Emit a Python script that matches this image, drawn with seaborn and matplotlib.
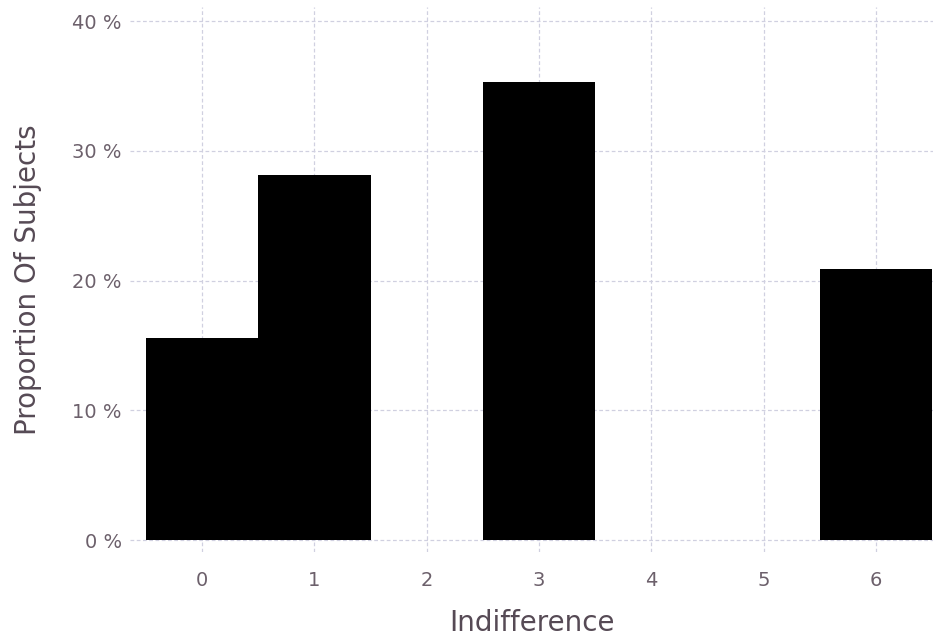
import matplotlib.pyplot as plt
import pandas as pd
import seaborn as sns
from matplotlib.ticker import FuncFormatter

# Share of subjects per indifference score (percent)
indifference = [0, 1, 3, 6]
proportion = [15.6, 28.1, 35.3, 20.9]
y_ticks = [0, 10, 20, 30, 40]
x_ticks = [0, 1, 2, 3, 4, 5, 6]

GRID = "#D0D0E0"
TICK_COLOR = "#6C606B"
LABEL_COLOR = "#564A55"

sns.set_theme(style="white")
plt.rcParams["font.family"] = ["DejaVu Sans"]

df = pd.DataFrame({"Indifference": indifference, "Proportion": proportion})

fig = plt.figure(figsize=(9.36, 6.37), dpi=100)
ax = fig.add_axes([0.1389, 0.1334, 0.8579, 0.8556])

sns.barplot(data=df, x="Indifference", y="Proportion", native_scale=True,
            width=1, color="black", saturation=1, edgecolor="none",
            linewidth=0, ax=ax, zorder=3)

ax.set_xlim(-0.641, 6.507)
ax.set_ylim(-0.925, 41.08)
ax.set_xticks(x_ticks)
ax.set_yticks(y_ticks)
ax.yaxis.set_major_formatter(FuncFormatter(lambda v, _: f"{v:.0f} %"))

ax.grid(True, color=GRID, linestyle=(0, (3, 2)), linewidth=0.9, zorder=0)
ax.set_axisbelow(True)
for s in ax.spines.values():
    s.set_visible(False)

ax.tick_params(axis="both", length=0, labelsize=14, labelcolor=TICK_COLOR)
ax.tick_params(axis="x", pad=14)
ax.tick_params(axis="y", pad=6)

ax.set_xlabel("Indifference", fontsize=20, color=LABEL_COLOR, labelpad=13)
ax.set_ylabel("Proportion Of Subjects", fontsize=20, color=LABEL_COLOR, labelpad=22)

fig.savefig("out.png", dpi=100)
